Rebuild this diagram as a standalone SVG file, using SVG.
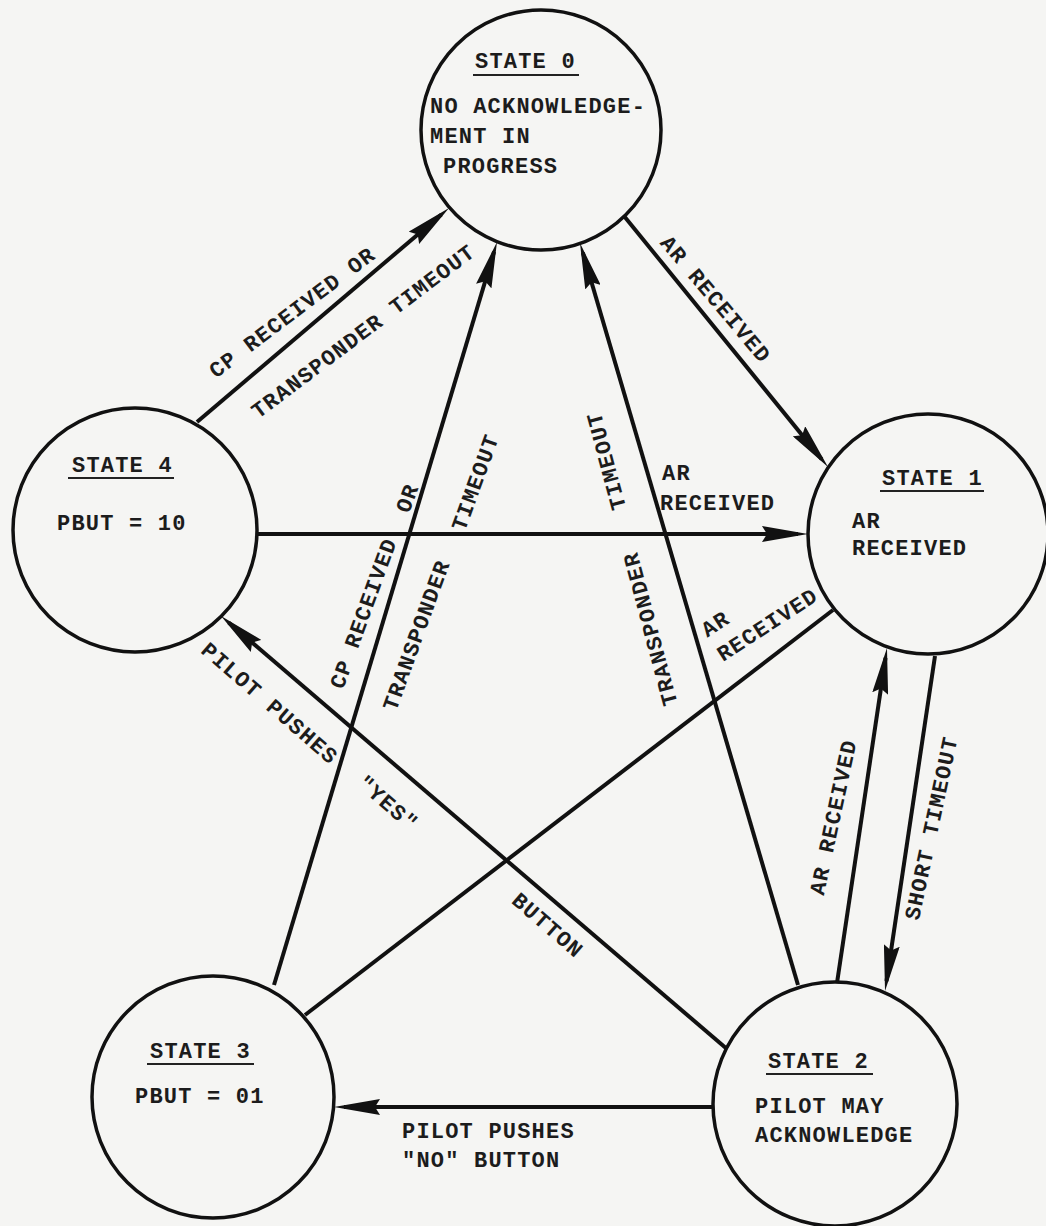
<svg xmlns="http://www.w3.org/2000/svg" width="1046" height="1226" viewBox="0 0 1046 1226">
<defs>
<style>
.t { font-family: "Liberation Mono", "Courier New", monospace; font-size: 22px; font-weight: bold; letter-spacing: 1.2px; fill: #1c1c1c; }
.m { text-anchor: middle; }
.c { fill: none; stroke: #111; stroke-width: 3.5; }
.e { fill: none; stroke: #111; stroke-width: 4; }
.u { stroke: #222; stroke-width: 2; }
</style>
<marker id="ah" markerUnits="userSpaceOnUse" markerWidth="46" markerHeight="16" viewBox="0 0 46 16" refX="36" refY="8" orient="auto">
<path d="M0,0 L46,8 L0,16 L5,8 z" fill="#111"/>
</marker>
</defs>
<rect width="1046" height="1226" fill="#f5f5f3"/>

<g id="connectors">
  <path class="e" d="M197,422 L441.4,214.5" marker-end="url(#ah)"/>
  <path class="e" d="M624,216 L821.7,459.2" marker-end="url(#ah)"/>
  <path class="e" d="M257,534 L798,534" marker-end="url(#ah)"/>
  <path class="e" d="M274,985 L494.1,251.6" marker-end="url(#ah)"/>
  <path class="e" d="M798,985 L582.8,252.6" marker-end="url(#ah)"/>
  <path class="e" d="M935,656 L886.5,981.1" marker-end="url(#ah)"/>
  <path class="e" d="M837,983 L885.5,657.9" marker-end="url(#ah)"/>
  <path class="e" d="M713,1107 L344,1107" marker-end="url(#ah)"/>
  <path class="e" d="M727,1049 L228.6,622.5" marker-end="url(#ah)"/>
  <path class="e" d="M305,1015 L833,610"/>

  <g id="labels">
    <text class="t m" transform="translate(292,312) rotate(-37)" y="7.5">CP RECEIVED OR</text>
    <text class="t m" transform="translate(363,331) rotate(-37)" y="7.5">TRANSPONDER TIMEOUT</text>
    <text class="t m" transform="translate(716,299) rotate(50)" y="7.5">AR RECEIVED</text>
    <text class="t" x="662" y="480">AR</text>
    <text class="t" x="660" y="510">RECEIVED</text>
    <text class="t m" transform="translate(363,613) rotate(-70)" y="7.5">CP RECEIVED</text>
    <text class="t m" transform="translate(407,498) rotate(-70)" y="7.5">OR</text>
    <text class="t m" transform="translate(416,635) rotate(-70)" y="7.5">TRANSPONDER</text>
    <text class="t m" transform="translate(475,482) rotate(-70)" y="7.5">TIMEOUT</text>
    <text class="t m" transform="translate(606,461) rotate(-105)" y="7.5">TIMEOUT</text>
    <text class="t m" transform="translate(650,629) rotate(-105)" y="7.5">TRANSPONDER</text>
    <text class="t m" transform="translate(931,828) rotate(-78)" y="7.5">SHORT TIMEOUT</text>
    <text class="t m" transform="translate(833,817) rotate(-78)" y="7.5">AR RECEIVED</text>
    <text class="t" x="402" y="1138">PILOT PUSHES</text>
    <text class="t" x="402" y="1167">"NO" BUTTON</text>
    <text class="t m" transform="translate(270,703) rotate(41)" y="7.5">PILOT PUSHES</text>
    <text class="t m" transform="translate(388,803) rotate(41)" y="7.5">"YES"</text>
    <text class="t m" transform="translate(548,925) rotate(41)" y="7.5">BUTTON</text>
    <text class="t" transform="translate(723,662) rotate(-33)"><tspan x="0" y="-29">AR</tspan><tspan x="0" y="0">RECEIVED</tspan></text>
  </g>
</g>

<g id="state0">
  <circle class="c" cx="541" cy="130" r="120"/>
  <text class="t" x="475" y="68">STATE 0</text>
  <line class="u" x1="473" y1="75" x2="579" y2="75"/>
  <text class="t" x="430" y="113">NO ACKNOWLEDGE-</text>
  <text class="t" x="430" y="143">MENT IN</text>
  <text class="t" x="443" y="173">PROGRESS</text>
</g>

<g id="state1">
  <circle class="c" cx="928" cy="534" r="120"/>
  <text class="t" x="882" y="485">STATE 1</text>
  <line class="u" x1="880" y1="491" x2="984" y2="491"/>
  <text class="t" x="852" y="528">AR</text>
  <text class="t" x="852" y="555">RECEIVED</text>
</g>

<g id="state2">
  <circle class="c" cx="835" cy="1104" r="122"/>
  <text class="t" x="768" y="1068">STATE 2</text>
  <line class="u" x1="766" y1="1074" x2="873" y2="1074"/>
  <text class="t" x="755" y="1113">PILOT MAY</text>
  <text class="t" x="755" y="1142">ACKNOWLEDGE</text>
</g>

<g id="state3">
  <circle class="c" cx="213" cy="1097" r="121"/>
  <text class="t" x="150" y="1058">STATE 3</text>
  <line class="u" x1="147" y1="1064" x2="254" y2="1064"/>
  <text class="t" x="135" y="1103">PBUT = 01</text>
</g>

<g id="state4">
  <circle class="c" cx="135" cy="530" r="122"/>
  <text class="t" x="72" y="472">STATE 4</text>
  <line class="u" x1="68" y1="478" x2="174" y2="478"/>
  <text class="t" x="57" y="530">PBUT = 10</text>
</g>
</svg>
